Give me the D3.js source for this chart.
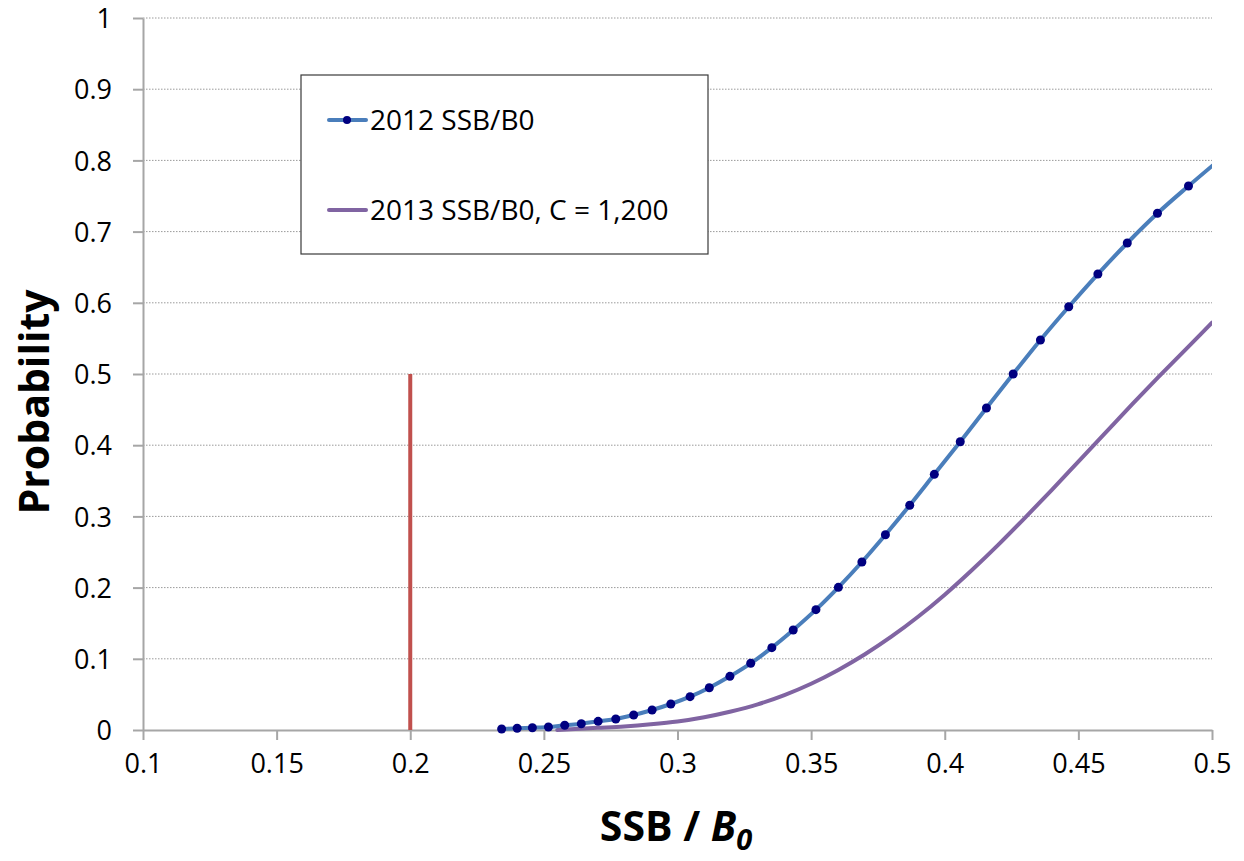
<!DOCTYPE html>
<html>
<head>
<meta charset="utf-8">
<script src="https://cdn.jsdelivr.net/npm/d3@7"></script>
<style>
  html, body { margin: 0; padding: 0; background: #fff; }
  svg { display: block; font-family: "Open Sans", "DejaVu Sans", sans-serif; }
</style>
</head>
<body>
<svg id="chart" width="1244" height="861"></svg>
<script>
// SSB/B0 values (x) and cumulative probability (y) for the 2012 estimate
const ssb2012 = [0.2342, 0.2400, 0.2457, 0.2517, 0.2578, 0.2640, 0.2703, 0.2769, 0.2836, 0.2905,
  0.2975, 0.3047, 0.3119, 0.3196, 0.3274, 0.3353, 0.3433, 0.3518, 0.3602, 0.3690, 0.3778,
  0.3869, 0.3961, 0.4058, 0.4156, 0.4256, 0.4358, 0.4464, 0.4573, 0.4683, 0.4796, 0.4912, 0.5028];
const prob2012 = [0.0014, 0.0024, 0.0032, 0.0042, 0.0066, 0.0088, 0.0122, 0.0154, 0.0211, 0.0281,
  0.0365, 0.0468, 0.0594, 0.0754, 0.0937, 0.1156, 0.1404, 0.1690, 0.2004, 0.2360, 0.2743,
  0.3156, 0.3591, 0.4049, 0.4522, 0.5000, 0.5478, 0.5945, 0.6404, 0.6840, 0.7257, 0.7640, 0.8010];

// Projected 2013 SSB/B0 with catch of 1,200
const ssb2013 = [0.255, 0.26, 0.27, 0.28, 0.29, 0.30, 0.31, 0.32, 0.33, 0.34, 0.35, 0.36, 0.37,
  0.38, 0.39, 0.40, 0.41, 0.42, 0.43, 0.44, 0.45, 0.46, 0.47, 0.48, 0.49, 0.50];
const prob2013 = [0.000, 0.001, 0.003, 0.005, 0.008, 0.012, 0.018, 0.026, 0.036, 0.049, 0.065,
  0.084, 0.106, 0.131, 0.159, 0.190, 0.224, 0.260, 0.298, 0.337, 0.377, 0.417, 0.457, 0.496,
  0.534, 0.572];

// Limit reference line (x = 0.2, from 0 to 0.5)
const limitX = [0.2, 0.2];
const limitY = [0, 0.5];

const xTicks = [0.1, 0.15, 0.2, 0.25, 0.3, 0.35, 0.4, 0.45, 0.5];
const yTicks = [0, 0.1, 0.2, 0.3, 0.4, 0.5, 0.6, 0.7, 0.8, 0.9, 1];
const seriesNames = ["2012 SSB/B0", "2013 SSB/B0, C = 1,200"];

const plotLeft = 143, plotRight = 1212, plotTop = 18, plotBottom = 730;
const svg = d3.select("#chart");

const x = d3.scaleLinear().domain([0.1, 0.5]).range([plotLeft, plotRight]);
const y = d3.scaleLinear().domain([0, 1]).range([plotBottom, plotTop]);

const axisColor = "#a6a6a6";

// horizontal gridlines
svg.append("g").selectAll("line")
  .data(yTicks.filter(d => d > 0))
  .join("line")
  .attr("x1", plotLeft).attr("x2", plotRight)
  .attr("y1", d => y(d)).attr("y2", d => y(d))
  .attr("stroke", "#9a9a9a").attr("stroke-width", 1)
  .attr("stroke-dasharray", "1.5,1.5");

// axes
const xAxis = svg.append("g")
  .attr("transform", `translate(0,${plotBottom})`)
  .call(d3.axisBottom(x).tickValues(xTicks).tickFormat(d3.format("")).tickSizeInner(10).tickSizeOuter(0).tickPadding(14));
const yAxis = svg.append("g")
  .attr("transform", `translate(${plotLeft},0)`)
  .call(d3.axisLeft(y).tickValues(yTicks).tickFormat(d3.format("")).tickSizeInner(10).tickSizeOuter(0).tickPadding(21));

[xAxis, yAxis].forEach(g => {
  g.select(".domain").attr("stroke", axisColor).attr("stroke-width", 2);
  g.selectAll(".tick line").attr("stroke", axisColor).attr("stroke-width", 2);
  g.selectAll(".tick text").attr("fill", "#000").style("font-size", "27px")
    .style("font-family", "'Open Sans', sans-serif");
});
yAxis.selectAll(".tick text").attr("dy", "0.36em");

// clip for data marks
svg.append("clipPath").attr("id", "plotClip")
  .append("rect").attr("x", plotLeft).attr("y", plotTop - 10)
  .attr("width", plotRight - plotLeft).attr("height", plotBottom - plotTop + 20);

const plot = svg.append("g").attr("clip-path", "url(#plotClip)");

const pts2012 = ssb2012.map((v, i) => [v, prob2012[i]]);
const pts2013 = ssb2013.map((v, i) => [v, prob2013[i]]);

const line = d3.line().x(d => x(d[0])).y(d => y(d[1])).curve(d3.curveMonotoneX);

// limit line
plot.append("line")
  .attr("x1", x(limitX[0])).attr("x2", x(limitX[1]))
  .attr("y1", y(limitY[0])).attr("y2", y(limitY[1]))
  .attr("stroke", "#c0504d").attr("stroke-width", 4);

// 2013 projection
plot.append("path").datum(pts2013)
  .attr("d", line).attr("fill", "none")
  .attr("stroke", "#8064a2").attr("stroke-width", 4).attr("stroke-linecap", "round");

// 2012 estimate with markers
plot.append("path").datum(pts2012)
  .attr("d", line).attr("fill", "none")
  .attr("stroke", "#4a7ebb").attr("stroke-width", 4).attr("stroke-linecap", "round");
plot.append("g").selectAll("circle").data(pts2012).join("circle")
  .attr("cx", d => x(d[0])).attr("cy", d => y(d[1])).attr("r", 4.5)
  .attr("fill", "#000080");

// legend
const lg = svg.append("g");
lg.append("rect").attr("x", 301).attr("y", 75).attr("width", 407).attr("height", 179)
  .attr("fill", "#fff").attr("stroke", "#3a3a3a").attr("stroke-width", 1.2);
const legendRows = [
  { name: seriesNames[0], color: "#4a7ebb", marker: true, cy: 120 },
  { name: seriesNames[1], color: "#8064a2", marker: false, cy: 210 }
];
legendRows.forEach(r => {
  lg.append("line").attr("x1", 329).attr("x2", 366).attr("y1", r.cy).attr("y2", r.cy)
    .attr("stroke", r.color).attr("stroke-width", 4).attr("stroke-linecap", "round");
  if (r.marker) lg.append("circle").attr("cx", 347).attr("cy", r.cy).attr("r", 4).attr("fill", "#000080");
  lg.append("text").attr("x", 370).attr("y", r.cy + 10).attr("font-size", 28).attr("fill", "#000").text(r.name);
});

// axis titles
svg.append("text")
  .attr("transform", "translate(49,402) rotate(-90)")
  .attr("text-anchor", "middle")
  .attr("font-size", 41).attr("font-weight", "bold").attr("fill", "#000")
  .text("Probability");

const xt = svg.append("text")
  .attr("x", 676).attr("y", 841)
  .attr("text-anchor", "middle")
  .attr("font-size", 41).attr("font-weight", "bold").attr("fill", "#000");
xt.append("tspan").text("SSB / ");
xt.append("tspan").attr("font-style", "italic").text("B");
xt.append("tspan").attr("font-style", "italic").attr("font-size", 29).attr("dy", 9).text("0");
</script>
</body>
</html>
